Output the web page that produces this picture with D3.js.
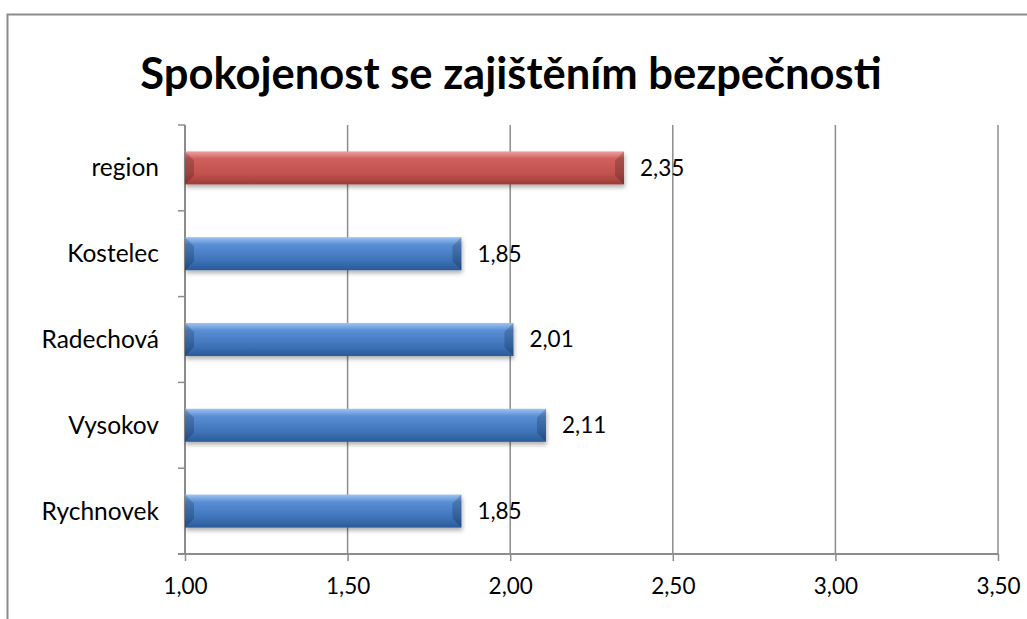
<!DOCTYPE html>
<html lang="cs">
<head>
    <meta charset="UTF-8">
    <title>Spokojenost se zajištěním bezpečnosti</title>
    <script src="https://d3js.org/d3.v7.min.js"></script>
    <style>
        body { margin: 0; background: #fff; }
        svg { display: block; font-family: Lato, "Open Sans", sans-serif; }
    </style>
</head>
<body>
    <svg width="1027" height="619"></svg>
    <script>
        // data
        const categories = ["region", "Kostelec", "Radechová", "Vysokov", "Rychnovek"];
        const values = [2.35, 1.85, 2.01, 2.11, 1.85];
        const highlight = ["region"];
        const xTicks = [1.0, 1.5, 2.0, 2.5, 3.0, 3.5];
        const title = "Spokojenost se zajištěním bezpečnosti";

        const svg = d3.select("svg");
        const cs = d3.formatLocale({ decimal: ",", thousands: " ", grouping: [3], currency: ["", " Kč"] });
        const fmt = cs.format(".2f");

        const margin = { top: 125, right: 29, bottom: 65, left: 185 };
        const width = 1027, height = 619;

        const x = d3.scaleLinear().domain([1, 3.5]).range([margin.left, width - margin.right]);
        const y = d3.scaleBand().domain(categories)
            .range([margin.top, height - margin.bottom])
            .paddingInner(0.615).paddingOuter(0.3075);

        // rámeček grafu
        svg.append("rect")
            .attr("x", 7.5).attr("y", 14.5)
            .attr("width", 1040).attr("height", 640)
            .attr("fill", "none").attr("stroke", "#8c8c8c").attr("stroke-width", 2);

        svg.append("text")
            .attr("x", 511).attr("y", 89)
            .attr("text-anchor", "middle")
            .attr("font-size", 43.5).attr("font-weight", "bold")
            .text(title);

        // přechody pro pruhy
        const defs = svg.append("defs");
        const grads = {
            blue: ["#9dc3f0", "#5a8fd6", "#3d73b8", "#2a5a98"],
            red: ["#f0a09e", "#d0605d", "#c0504d", "#9a3d3a"]
        };
        Object.entries(grads).forEach(([k, c]) => {
            const g = defs.append("linearGradient").attr("id", "g-" + k)
                .attr("x1", 0).attr("y1", 0).attr("x2", 0).attr("y2", 1);
            g.append("stop").attr("offset", "0%").attr("stop-color", c[0]);
            g.append("stop").attr("offset", "22%").attr("stop-color", c[1]);
            g.append("stop").attr("offset", "70%").attr("stop-color", c[2]);
            g.append("stop").attr("offset", "100%").attr("stop-color", c[3]);
        });
        const shadow = defs.append("filter").attr("id", "shadow")
            .attr("x", "-5%").attr("y", "-20%").attr("width", "110%").attr("height", "160%");
        shadow.append("feDropShadow").attr("dx", 1).attr("dy", 3).attr("stdDeviation", 2)
            .attr("flood-color", "#000").attr("flood-opacity", 0.3);

        // mřížka
        svg.append("g").selectAll("line").data(xTicks.slice(1)).join("line")
            .attr("x1", d => x(d)).attr("x2", d => x(d))
            .attr("y1", margin.top).attr("y2", height - margin.bottom)
            .attr("stroke", "#8c8c8c").attr("stroke-width", 1.5);

        // osa x
        const xAxis = svg.append("g")
            .attr("transform", `translate(0,${height - margin.bottom})`)
            .call(d3.axisBottom(x).tickValues(xTicks).tickFormat(fmt).tickSize(7).tickPadding(17).tickSizeOuter(0));
        xAxis.select(".domain").attr("stroke", "#8c8c8c").attr("stroke-width", 2)
            .attr("d", `M${margin.left - 7},0H${x(3.5)}`);
        xAxis.selectAll(".tick line").attr("stroke", "#8c8c8c").attr("stroke-width", 1.5);
        xAxis.selectAll(".tick text").attr("font-size", 22.5).attr("fill", "#000")
            .attr("font-family", "Lato, sans-serif");

        // osa y
        const boundaries = categories.map(c => y(c) - y.step() * y.paddingInner() / 2)
            .concat([height - margin.bottom]);
        const yAxis = svg.append("g");
        yAxis.append("line")
            .attr("x1", margin.left).attr("x2", margin.left)
            .attr("y1", margin.top).attr("y2", height - margin.bottom)
            .attr("stroke", "#8c8c8c").attr("stroke-width", 2);
        yAxis.selectAll(".yt").data(boundaries).join("line").attr("class", "yt")
            .attr("x1", margin.left - 7).attr("x2", margin.left)
            .attr("y1", d => d).attr("y2", d => d)
            .attr("stroke", "#8c8c8c").attr("stroke-width", 1.5);
        yAxis.selectAll("text").data(categories).join("text")
            .attr("x", margin.left - 26)
            .attr("y", d => y(d) + y.bandwidth() / 2)
            .attr("dy", "0.35em")
            .attr("text-anchor", "end")
            .attr("font-size", 24.5)
            .text(d => d);

        // pruhy
        const bars = svg.append("g").selectAll("g").data(categories).join("g");
        bars.append("rect")
            .attr("x", x(1))
            .attr("y", d => y(d))
            .attr("width", (d, i) => x(values[i]) - x(1))
            .attr("height", y.bandwidth())
            .attr("fill", d => highlight.includes(d) ? "url(#g-red)" : "url(#g-blue)")
            .attr("filter", "url(#shadow)");
        // zkosené konce
        bars.append("path")
            .attr("d", (d, i) => {
                const x0 = x(1), x1 = x(values[i]), y0 = y(d), h = y.bandwidth(), b = 9;
                return `M${x0},${y0}L${x0 + b},${y0 + b}L${x0 + b},${y0 + h - b}L${x0},${y0 + h}Z` +
                       `M${x1},${y0}L${x1 - b},${y0 + b}L${x1 - b},${y0 + h - b}L${x1},${y0 + h}Z`;
            })
            .attr("fill", "#000").attr("opacity", 0.18);

        // hodnoty
        svg.append("g").selectAll("text").data(categories).join("text")
            .attr("x", (d, i) => x(values[i]) + 16)
            .attr("y", d => y(d) + y.bandwidth() / 2)
            .attr("dy", "0.35em")
            .attr("font-size", 22.5)
            .text((d, i) => fmt(values[i]));
    </script>
</body>
</html>
